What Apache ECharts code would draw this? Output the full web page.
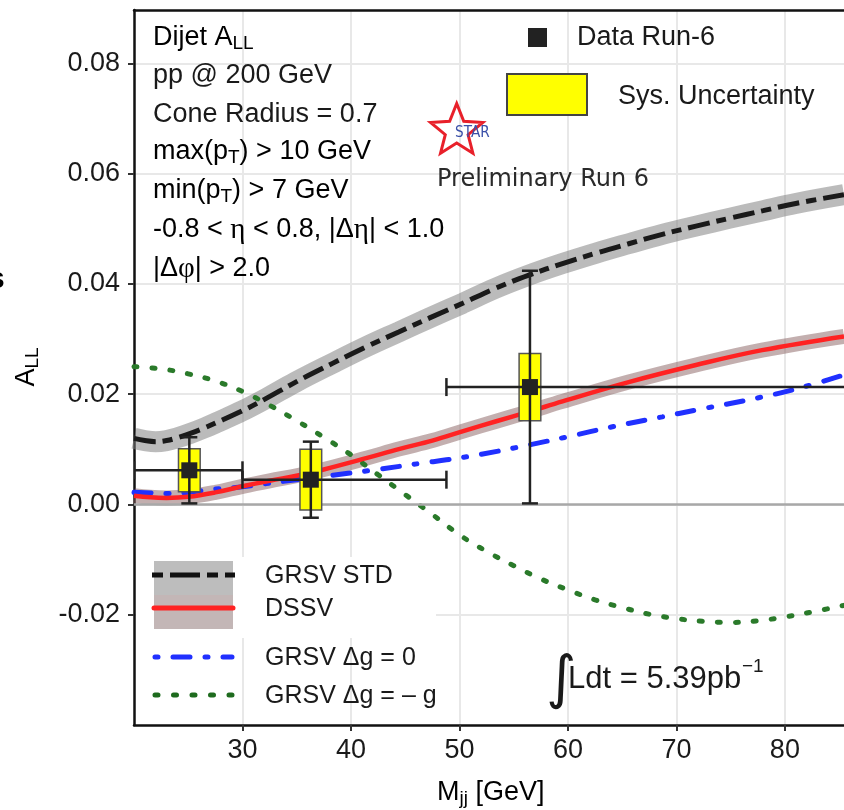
<!DOCTYPE html>
<html><head><meta charset="utf-8">
<script src="https://cdn.jsdelivr.net/npm/echarts@6/dist/echarts.min.js"></script>
<style>html,body{margin:0;padding:0;background:#fff}#c{width:844px;height:810px}</style>
</head><body><div id="c"></div>
<script>
// ---- data ----
const xTicks = [30, 40, 50, 60, 70, 80];
const yTicks = [-0.02, 0, 0.02, 0.04, 0.06, 0.08];

const grsvStdX = [20, 21, 22, 23, 24, 25.2, 26.5, 27.55, 30, 32.15, 34.9, 38.3, 41.4, 44.4, 47.2, 50.3, 53.3, 56.4, 59.5, 62.6, 65.6, 68.7, 71.8, 74.85, 78, 81, 85.45];
const grsvStdY = [0.0120, 0.0116, 0.0114, 0.0116, 0.0121, 0.0129, 0.0139, 0.0148, 0.0170, 0.0192, 0.0222, 0.0256, 0.0286, 0.0313, 0.0338, 0.0365, 0.0392, 0.0416, 0.0437, 0.0456, 0.0473, 0.0490, 0.0505, 0.0519, 0.0533, 0.0546, 0.0562];

const dssvX = [20, 21.5, 23, 25, 27.5, 30, 32.5, 35.2, 37.4, 41.4, 44.5, 47.5, 50.5, 53.4, 56.5, 59.5, 65.6, 71.8, 77.9, 85.45];
const dssvY = [0.0016, 0.0013, 0.0012, 0.0014, 0.0022, 0.0033, 0.0043, 0.0053, 0.0063, 0.0084, 0.0101, 0.0116, 0.0134, 0.0151, 0.0169, 0.0187, 0.0222, 0.0253, 0.0280, 0.0305];

const grsvZeroX = [20, 21.5, 23, 25, 27.5, 30, 32.2, 35, 38.3, 42.6, 46.9, 48.8, 52, 56.4, 60, 64.1, 68.7, 72, 77.9, 81.5, 85.45];
const grsvZeroY = [0.0022, 0.0021, 0.0020, 0.0022, 0.0028, 0.0032, 0.0038, 0.0045, 0.0053, 0.0064, 0.0076, 0.0081, 0.0091, 0.0108, 0.0123, 0.0141, 0.0159, 0.0172, 0.0195, 0.0212, 0.0235];

const grsvMinusX = [20, 22.5, 25, 27.5, 30, 32.5, 35, 37.5, 40, 42.5, 45, 47.5, 50, 52.5, 55, 57.5, 60, 62.5, 65, 67.5, 70, 72.5, 75, 77.5, 80, 82.5, 85.45];
const grsvMinusY = [0.0250, 0.0246, 0.0237, 0.0224, 0.0205, 0.0180, 0.0152, 0.0122, 0.0090, 0.0054, 0.0018, -0.0018, -0.0055, -0.0085, -0.0111, -0.0135, -0.0155, -0.0173, -0.0187, -0.0199, -0.0207, -0.0212, -0.0214, -0.0211, -0.0204, -0.0195, -0.0183];

const dataX    = [25.1, 36.3, 56.5];
const dataY    = [0.0062, 0.0045, 0.0213];
const dataXLow = [20.0, 30.0, 48.8];
const dataXHigh= [30.0, 48.8, 100.0];
const statErr  = [0.0060, 0.0069, 0.0211];
const sysErr   = [0.0039, 0.0055, 0.0061];

// ---- build ----
const zip = (a, b) => a.map((v, i) => [v, b[i]]);
const pts = dataX.map((v, i) => [v, dataY[i], dataXLow[i], dataXHigh[i], statErr[i], sysErr[i]]);
const SYS_HALF_W = 1.0;
const F = 'Liberation Sans, Arial, sans-serif';
const INK = '#1a1a1a';

const chart = echarts.init(document.getElementById('c'), null, {renderer: 'canvas'});

function renderPoint(params, api) {
  const x = api.value(0), y = api.value(1), xl = api.value(2), xh = api.value(3), se = api.value(4), sy = api.value(5);
  const c = api.coord([x, y]);
  const pl = api.coord([xl, y]), ph = api.coord([xh, y]);
  const pt = api.coord([x, y + se]), pb = api.coord([x, y - se]);
  const b1 = api.coord([x - SYS_HALF_W, y + sy]), b2 = api.coord([x + SYS_HALF_W, y - sy]);
  const ls = {stroke: '#222', lineWidth: 2.5};
  return {type: 'group', children: [
    {type: 'rect', shape: {x: b1[0], y: b1[1], width: b2[0] - b1[0], height: b2[1] - b1[1]}, style: {fill: '#ffff00', stroke: '#555', lineWidth: 1.5}},
    {type: 'line', shape: {x1: pl[0], y1: pl[1], x2: ph[0], y2: ph[1]}, style: ls},
    {type: 'line', shape: {x1: pl[0], y1: pl[1] - 9, x2: pl[0], y2: pl[1] + 9}, style: ls},
    {type: 'line', shape: {x1: ph[0], y1: ph[1] - 9, x2: ph[0], y2: ph[1] + 9}, style: ls},
    {type: 'line', shape: {x1: pt[0], y1: pt[1], x2: pb[0], y2: pb[1]}, style: ls},
    {type: 'line', shape: {x1: pt[0] - 8, y1: pt[1], x2: pt[0] + 8, y2: pt[1]}, style: ls},
    {type: 'line', shape: {x1: pb[0] - 8, y1: pb[1], x2: pb[0] + 8, y2: pb[1]}, style: ls},
    {type: 'rect', shape: {x: c[0] - 8, y: c[1] - 8, width: 16, height: 16}, style: {fill: '#222'}}
  ]};
}

function starPoints(cx, cy, R, r) {
  const p = [];
  for (let i = 0; i < 10; i++) {
    const a = -Math.PI / 2 + i * Math.PI / 5;
    const rr = i % 2 ? r : R;
    p.push([cx + rr * Math.cos(a), cy + rr * Math.sin(a)]);
  }
  return p;
}

const txt = (x, y, text, extra) => {
  const o = {type: 'text', x: x, y: y, z: 20,
    style: Object.assign({text: text, font: '27px ' + F, fill: INK, verticalAlign: 'middle', align: 'left'}, (extra || {}).style || {})};
  if (extra && extra.scaleX) o.scaleX = extra.scaleX;
  return o;
};

const richBase = {
  n: {fontSize: 27, fontFamily: F, color: INK, lineHeight: 30},
  s: {fontSize: 19, fontFamily: F, color: INK, lineHeight: 8, verticalAlign: 'bottom'},
  g: {fontSize: 29, fontFamily: 'Liberation Serif, serif', color: INK, lineHeight: 30}
};

const option = {
  animation: false,
  backgroundColor: '#fff',
  grid: {left: 134, right: 0, top: 10, bottom: 85, containLabel: false},
  xAxis: [{
    type: 'value', min: 20, max: 85.45, interval: 5,
    axisLine: {show: true, onZero: false, lineStyle: {color: '#111', width: 2.5}},
    axisTick: {show: true, customValues: xTicks, length: 6, lineStyle: {color: '#333', width: 2}},
    axisLabel: {show: true, customValues: xTicks, margin: 12, fontSize: 27, fontFamily: F, color: INK, formatter: v => String(Math.round(v))},
    splitLine: {show: true, lineStyle: {color: '#e8e8e8', width: 2}}
  }, {
    type: 'value', position: 'top', min: 20, max: 85.45,
    axisLine: {show: true, onZero: false, lineStyle: {color: '#111', width: 2.5}},
    axisTick: {show: false}, axisLabel: {show: false}, splitLine: {show: false}
  }],
  yAxis: [{
    type: 'value', min: -0.04, max: 0.0897, interval: 0.01,
    axisLine: {show: true, onZero: false, lineStyle: {color: '#111', width: 2.5}},
    axisTick: {show: true, customValues: yTicks, length: 6, lineStyle: {color: '#333', width: 2}},
    axisLabel: {show: true, customValues: yTicks, margin: 14, fontSize: 27, fontFamily: F, color: INK, formatter: v => v.toFixed(2)},
    splitLine: {show: true, lineStyle: {color: '#e8e8e8', width: 2}}
  }],
  series: [
    {type: 'line', name: 'grsvStdBand', data: zip(grsvStdX, grsvStdY), smooth: 0.4, symbol: 'none', z: 2,
      lineStyle: {color: 'rgba(125,125,125,0.52)', width: 21, cap: 'butt'},
      markLine: {silent: true, symbol: 'none', label: {show: false}, data: [{yAxis: 0}], lineStyle: {color: '#a8a8a8', width: 2.5, type: 'solid'}}},
    {type: 'line', name: 'dssvBand', data: zip(dssvX, dssvY), smooth: 0.4, symbol: 'none', z: 2,
      lineStyle: {color: 'rgba(135,95,95,0.5)', width: 15, cap: 'butt'}},
    {type: 'line', name: 'GRSV Δg = -g', data: zip(grsvMinusX, grsvMinusY), smooth: 0.4, symbol: 'none', z: 3,
      lineStyle: {color: '#2a7a2a', width: 5, type: [3, 15], cap: 'round'}},
    {type: 'line', name: 'GRSV Δg = 0', data: zip(grsvZeroX, grsvZeroY), smooth: 0.4, symbol: 'none', z: 3,
      lineStyle: {color: '#2030ff', width: 5, type: [17, 15, 3, 15], cap: 'round'}},
    {type: 'line', name: 'DSSV', data: zip(dssvX, dssvY), smooth: 0.4, symbol: 'none', z: 3,
      lineStyle: {color: '#ff2222', width: 4.5}},
    {type: 'line', name: 'GRSV STD', data: zip(grsvStdX, grsvStdY), smooth: 0.4, symbol: 'none', z: 3,
      lineStyle: {color: '#1a1a1a', width: 5, type: [22, 7, 10, 7], cap: 'butt'}},
    {type: 'custom', name: 'Data Run-6', data: pts, renderItem: renderPoint, clip: true, z: 10,
      encode: {x: 0, y: 1}}
  ],
  graphic: [
    // bottom legend background
    {type: 'rect', z: 1, shape: {x: 136, y: 557, width: 300, height: 81}, style: {fill: '#fff'}},
    {type: 'rect', z: 5, shape: {x: 154, y: 561, width: 79, height: 34}, style: {fill: '#bdbdbd'}},
    {type: 'rect', z: 5, shape: {x: 154, y: 595, width: 79, height: 34}, style: {fill: '#c3b6b6'}},
    {type: 'line', z: 6, shape: {x1: 152, y1: 575, x2: 235, y2: 575}, style: {stroke: '#111', lineWidth: 5, lineDash: [11, 7, 30, 7], lineCap: 'butt'}},
    {type: 'line', z: 6, shape: {x1: 154, y1: 608, x2: 233, y2: 608}, style: {stroke: '#ff2222', lineWidth: 5, lineCap: 'round'}},
    {type: 'line', z: 6, shape: {x1: 155, y1: 657, x2: 232, y2: 657}, style: {stroke: '#2030ff', lineWidth: 5, lineDash: [3, 15, 17, 15], lineCap: 'round'}},
    {type: 'line', z: 6, shape: {x1: 155, y1: 695, x2: 232, y2: 695}, style: {stroke: '#1e6b1e', lineWidth: 5, lineDash: [3, 15.5], lineCap: 'round'}},
    txt(265, 576, 'GRSV STD', {style: {font: '25px ' + F}}),
    txt(265, 609, 'DSSV', {style: {font: '25px ' + F}}),
    txt(265, 658, 'GRSV Δg = 0', {style: {font: '25px ' + F}}),
    txt(265, 696, 'GRSV Δg = \u2013 g', {style: {font: '25px ' + F}}),
    // top legend
    {type: 'rect', z: 5, shape: {x: 528, y: 28, width: 19, height: 19}, style: {fill: '#222'}},
    txt(577, 38, 'Data Run-6'),
    {type: 'rect', z: 5, shape: {x: 507, y: 74, width: 80, height: 41}, style: {fill: '#ffff00', stroke: '#444', lineWidth: 2}},
    txt(618, 97, 'Sys. Uncertainty'),
    // STAR logo
    {type: 'polygon', z: 5, shape: {points: starPoints(456.7, 131, 27.5, 12)}, style: {fill: 'none', stroke: '#e8202a', lineWidth: 3}},
    txt(455, 133, 'STAR', {scaleX: 0.85, style: {font: '16px DejaVu Sans, sans-serif', fill: '#3a4fa8'}}),
    txt(437, 180, 'Preliminary Run 6', {style: {font: '24px DejaVu Sans, sans-serif', fill: '#2a2a2a'}}),
    // info block
    {type: 'text', z: 20, x: 153, y: 38, style: {text: '{n|Dijet A}{s|LL}', rich: richBase, verticalAlign: 'middle'}},
    txt(153, 76, 'pp @ 200 GeV'),
    txt(153, 115, 'Cone Radius = 0.7'),
    {type: 'text', z: 20, x: 153, y: 152, style: {text: '{n|max(p}{s|T}{n|) > 10 GeV}', rich: richBase, verticalAlign: 'middle'}},
    {type: 'text', z: 20, x: 153, y: 191, style: {text: '{n|min(p}{s|T}{n|) > 7 GeV}', rich: richBase, verticalAlign: 'middle'}},
    {type: 'text', z: 20, x: 153, y: 230, style: {text: '{n|-0.8 < }{g|η}{n| < 0.8, |Δ}{g|η}{n|| < 1.0}', rich: richBase, verticalAlign: 'middle'}},
    {type: 'text', z: 20, x: 153, y: 269, style: {text: '{n||Δ}{g|φ}{n|| > 2.0}', rich: richBase, verticalAlign: 'middle'}},
    // luminosity
    txt(546, 682, '\u222B', {style: {font: '58px DejaVu Sans, sans-serif'}}),
    txt(568, 679, 'Ldt = 5.39pb', {style: {font: '31px ' + F}}),
    txt(742, 667, '\u22121', {style: {font: '19px ' + F}}),
    // axis titles
    {type: 'text', z: 20, x: 437, y: 793, style: {text: '{n|M}{s|jj}{n| [GeV]}', rich: richBase, verticalAlign: 'middle'}},
    {type: 'text', z: 20, x: 27, y: 367, rotation: Math.PI / 2, style: {text: '{n|A}{s|LL}', rich: richBase, verticalAlign: 'middle', align: 'center'}},
    // clipped glyph at the left edge
    txt(-12, 280, 's', {style: {font: 'bold 30px ' + F, fill: '#000'}})
  ]
};
chart.setOption(option);
</script>
</body></html>
